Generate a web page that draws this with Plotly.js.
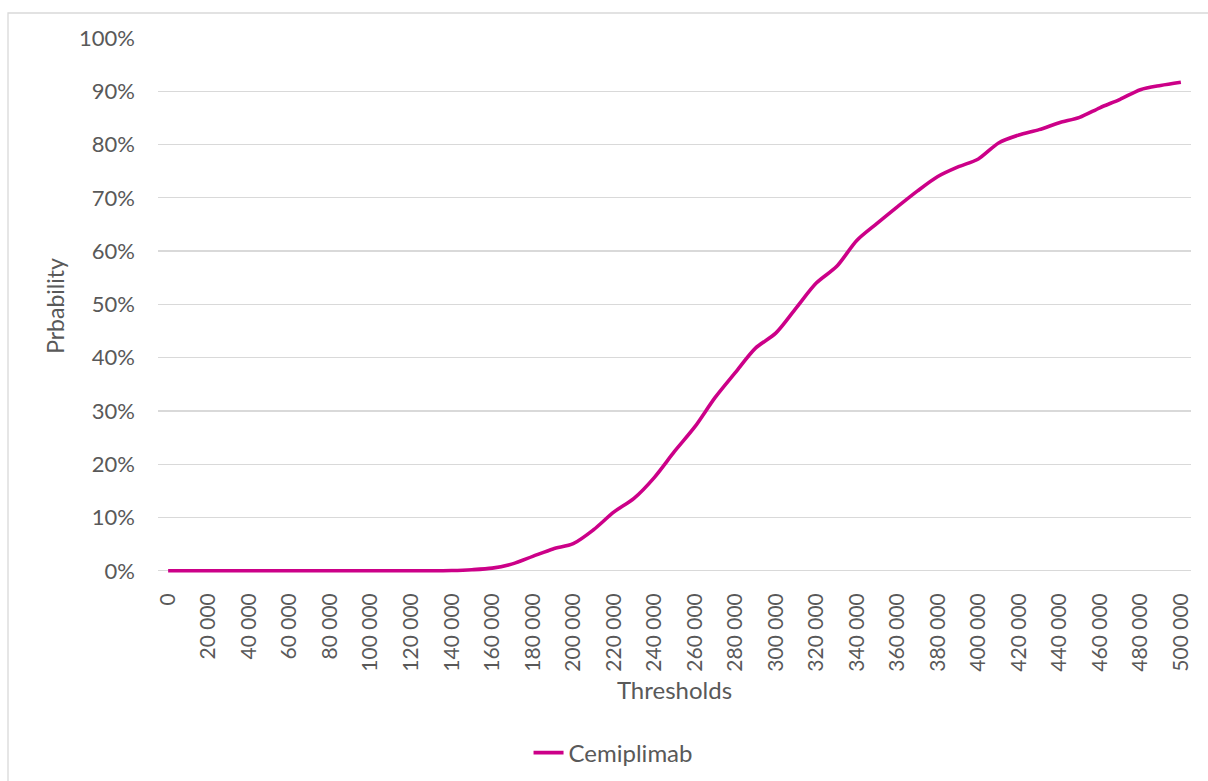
<!DOCTYPE html>
<html>
<head>
<meta charset="utf-8">
<script src="https://cdn.plot.ly/plotly-3.0.1.min.js"></script>
<style>
  html, body { margin: 0; padding: 0; background: #ffffff; }
  #chart { width: 1208px; height: 781px; }
</style>
</head>
<body>
<div id="chart"></div>
<script>
// Thresholds (x values)
const thresholds = [
  0, 10000, 20000, 30000, 40000, 50000, 60000, 70000, 80000, 90000,
  100000, 110000, 120000, 130000, 140000, 150000, 160000, 170000, 180000, 190000,
  200000, 210000, 220000, 230000, 240000, 250000, 260000, 270000, 280000, 290000,
  300000, 310000, 320000, 330000, 340000, 350000, 360000, 370000, 380000, 390000,
  400000, 410000, 420000, 430000, 440000, 450000, 460000, 470000, 480000, 490000,
  500000
];

// Probability of cost-effectiveness for Cemiplimab
const cemiplimab = [
  0, 0, 0, 0, 0, 0, 0, 0, 0, 0,
  0, 0, 0, 0, 0.0005, 0.002, 0.005, 0.013, 0.027, 0.041,
  0.051, 0.077, 0.110, 0.136, 0.175, 0.224, 0.270, 0.325, 0.372, 0.418,
  0.446, 0.493, 0.540, 0.571, 0.620, 0.652, 0.683, 0.713, 0.740, 0.758,
  0.773, 0.803, 0.818, 0.828, 0.841, 0.851, 0.869, 0.885, 0.903, 0.911,
  0.917
];

// Tick labels
const xTickVals = [0, 20000, 40000, 60000, 80000, 100000, 120000, 140000, 160000, 180000,
  200000, 220000, 240000, 260000, 280000, 300000, 320000, 340000, 360000, 380000,
  400000, 420000, 440000, 460000, 480000, 500000];
const xTickText = ["0", "20 000", "40 000", "60 000", "80 000", "100 000", "120 000", "140 000",
  "160 000", "180 000", "200 000", "220 000", "240 000", "260 000", "280 000", "300 000",
  "320 000", "340 000", "360 000", "380 000", "400 000", "420 000", "440 000", "460 000",
  "480 000", "500 000"];
const yTickVals = [0, 0.1, 0.2, 0.3, 0.4, 0.5, 0.6, 0.7, 0.8, 0.9, 1.0];
const yTickText = ["0%", "10%", "20%", "30%", "40%", "50%", "60%", "70%", "80%", "90%", "100%"];

const textColor = "#595959";
const gridColor = "#d9d9d9";
const fontFamily = "Lato, 'Open Sans', sans-serif";

const trace = {
  x: thresholds,
  y: cemiplimab,
  type: "scatter",
  mode: "lines",
  name: "Cemiplimab",
  line: { color: "#cc0088", width: 3.6, shape: "spline", smoothing: 0.8 },
  hoverinfo: "x+y"
};

const layout = {
  width: 1208,
  height: 781,
  paper_bgcolor: "#ffffff",
  plot_bgcolor: "#ffffff",
  font: { family: fontFamily, size: 21, color: textColor },
  margin: { l: 158, r: 17, t: 38, b: 207, pad: 0, autoexpand: false },
  showlegend: true,
  legend: {
    orientation: "h",
    x: 0.4405, xanchor: "center",
    y: -0.334, yanchor: "middle",
    font: { family: fontFamily, size: 24, color: textColor },
    bgcolor: "rgba(0,0,0,0)"
  },
  xaxis: {
    range: [-5000, 505000],
    tickmode: "array",
    tickvals: xTickVals,
    ticktext: xTickText,
    tickangle: -90,
    ticks: "",
    ticklabelstandoff: 14,
    showgrid: false,
    zeroline: false,
    showline: false,
    automargin: false,
    tickfont: { family: fontFamily, size: 21, color: textColor },
    title: { text: "Thresholds", font: { family: fontFamily, size: 24, color: textColor }, standoff: 11 },
    fixedrange: true
  },
  yaxis: {
    range: [-0.006, 1.0],
    tickmode: "array",
    tickvals: yTickVals,
    ticktext: yTickText,
    ticks: "",
    ticklabelstandoff: 22,
    showgrid: true,
    gridcolor: gridColor,
    gridwidth: 1.3,
    zeroline: false,
    showline: false,
    automargin: false,
    tickfont: { family: fontFamily, size: 22, color: textColor },
    title: { text: "Prbability", font: { family: fontFamily, size: 23, color: textColor }, standoff: 8 },
    fixedrange: true
  },
  shapes: [
    {
      type: "rect", xref: "paper", yref: "paper",
      x0: -0.1452, x1: 1.0232, y0: -0.41, y1: 1.0466,
      line: { color: gridColor, width: 1.3 },
      fillcolor: "rgba(0,0,0,0)",
      layer: "below"
    }
  ]
};

Plotly.newPlot("chart", [trace], layout, { displayModeBar: false, staticPlot: true });
</script>
</body>
</html>
